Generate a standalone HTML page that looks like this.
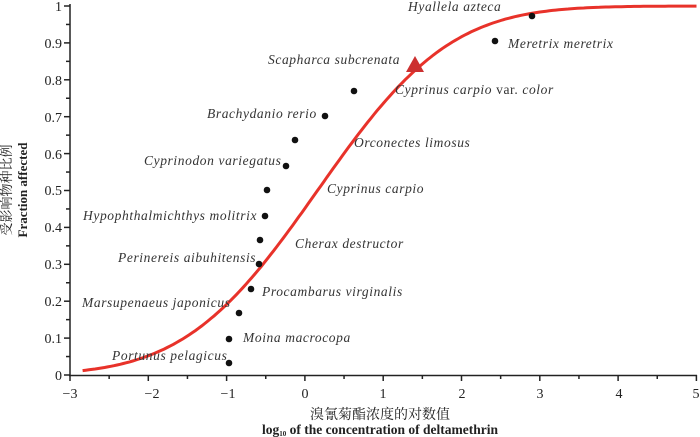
<!DOCTYPE html>
<html><head><meta charset="utf-8"><style>
html,body{margin:0;padding:0;background:#fff;width:700px;height:437px;overflow:hidden}
svg{display:block}
.t{font-family:"Liberation Serif",serif;font-size:14px;fill:#222}
.i{font-family:"Liberation Serif",serif;font-style:italic;font-size:13.5px;fill:#333;letter-spacing:0.6px}
</style></head><body>
<svg id="s" width="700" height="437" viewBox="0 0 700 437" xmlns="http://www.w3.org/2000/svg">
<g id="ax" stroke="#222" stroke-width="1.5" fill="none">
<line x1="70" y1="4" x2="70" y2="376"/>
<line x1="69" y1="375.5" x2="697" y2="375.5"/>
</g>
<g class="t" text-anchor="end">
<text x="62" y="380">0</text><text x="62" y="343">0.1</text><text x="62" y="306">0.2</text><text x="62" y="269">0.3</text><text x="62" y="232">0.4</text><text x="62" y="195">0.5</text><text x="62" y="159">0.6</text><text x="62" y="122">0.7</text><text x="62" y="85">0.8</text><text x="62" y="48">0.9</text><text x="62" y="11">1</text>
</g>
<g class="t" text-anchor="middle">
<text x="70" y="398">−3</text><text x="152" y="398">−2</text><text x="228" y="398">−1</text><text x="305" y="398">0</text><text x="383" y="398">1</text><text x="462" y="398">2</text><text x="540" y="398">3</text><text x="619" y="398">4</text><text x="696" y="398">5</text>
</g>
<text x="380" y="419" text-anchor="middle" style="font-family:'Liberation Serif','Noto Serif CJK SC',serif;font-size:14px;fill:#222">溴氰菊酯浓度的对数值</text>
<text x="380" y="434" text-anchor="middle" style="font-family:'Liberation Serif',serif;font-size:13.5px;font-weight:bold;fill:#222">log<tspan font-size="7" dy="2">10</tspan><tspan dy="-2"> of the concentration of deltamethrin</tspan></text>
<text transform="translate(11,190) rotate(-90)" text-anchor="middle" style="font-family:'Liberation Serif','Noto Serif CJK SC',serif;font-size:13px;fill:#222">受影响物种比例</text>
<text transform="translate(27,190) rotate(-90)" text-anchor="middle" style="font-family:'Liberation Serif',serif;font-size:13px;font-weight:bold;fill:#222">Fraction affected</text>
<path id="curve" fill="none" stroke="#e8322a" stroke-width="3"/>
<polygon points="415,56 406,72 424,72" fill="#cc3030"/>
<g fill="#111">
<circle cx="229" cy="363" r="3.3"/><circle cx="229" cy="339" r="3.3"/><circle cx="239" cy="313" r="3.3"/><circle cx="251" cy="289" r="3.3"/><circle cx="259" cy="264" r="3.3"/><circle cx="260" cy="240" r="3.3"/><circle cx="265" cy="216" r="3.3"/><circle cx="267" cy="190" r="3.3"/><circle cx="286" cy="166" r="3.3"/><circle cx="295" cy="140" r="3.3"/><circle cx="325" cy="116" r="3.3"/><circle cx="354" cy="91" r="3.3"/><circle cx="495" cy="41" r="3.3"/><circle cx="532" cy="16" r="3.3"/>
</g>
<g class="i">
<text x="408" y="11">Hyallela azteca</text>
<text x="508" y="48">Meretrix meretrix</text>
<text x="268" y="64">Scapharca subcrenata</text>
<text x="395" y="94">Cyprinus carpio <tspan font-style="normal">var.</tspan> color</text>
<text x="207" y="118">Brachydanio rerio</text>
<text x="354" y="147">Orconectes limosus</text>
<text x="144" y="165">Cyprinodon variegatus</text>
<text x="327" y="193">Cyprinus carpio</text>
<text x="83" y="220">Hypophthalmichthys molitrix</text>
<text x="295" y="248">Cherax destructor</text>
<text x="118" y="262">Perinereis aibuhitensis</text>
<text x="262" y="296">Procambarus virginalis</text>
<text x="82" y="307">Marsupenaeus japonicus</text>
<text x="243" y="342">Moina macrocopa</text>
<text x="112" y="360">Portunus pelagicus</text>
</g>
</svg>
<script>
(function(){
var ax=document.getElementById('ax'),ns='http://www.w3.org/2000/svg';
function ln(a,b,c,d){var l=document.createElementNS(ns,'line');l.setAttribute('x1',a);l.setAttribute('y1',b);l.setAttribute('x2',c);l.setAttribute('y2',d);ax.appendChild(l);}
for(var i=0;i<=20;i++){var y=375-369*i/20;ln(70,y,i%2?66:64,y);}
for(var j=0;j<=16;j++){var x=70+78.3*j/2;ln(x,375,x,j%2?379:381);}
function erf(x){var s=x<0?-1:1;x=Math.abs(x);var t=1/(1+0.3275911*x);var y=1-(((((1.061405429*t-1.453152027)*t)+1.421413741)*t-0.284496736)*t+0.254829592)*t*Math.exp(-x*x);return s*y;}
var d='';for(var v=-2.84;v<=5.001;v+=0.04){var f=0.5*(1+erf((v-0.16)/(1.33*Math.SQRT2)));var px=305+78.3*v,py=375-369*f;d+=(d?'L':'M')+px.toFixed(1)+','+py.toFixed(1);}
document.getElementById('curve').setAttribute('d',d);
})();
</script>
</body></html>
